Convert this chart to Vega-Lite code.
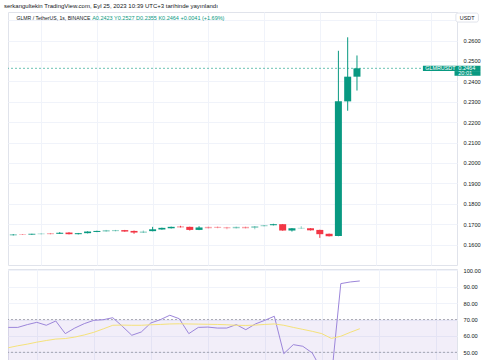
{
  "$schema": "https://vega.github.io/schema/vega-lite/v6.json",
  "padding": {"left": 4, "top": 2, "right": 3, "bottom": 0},
  "title": {"text": "serkangultekin TradingView.com, Eyl 25, 2023 10:39 UTC+3 tarihinde yayınlandı", "anchor": "start", "fontSize": 6, "fontWeight": "normal", "color": "#131722", "offset": 3, "dx": -3},
  "datasets": {
    "bars": [
      {"k": 1, "o": 0.1646, "h": 0.1651, "l": 0.1645, "c": 0.1649, "vol": "high", "rsi": 65.2, "ma": 52.8},
      {"k": 2, "o": 0.1651, "h": 0.1652, "l": 0.1647, "c": 0.1648, "vol": "low", "rsi": 65.2, "ma": 54.0},
      {"k": 3, "o": 0.1649, "h": 0.1653, "l": 0.1648, "c": 0.1653, "vol": "high", "rsi": 66.9, "ma": 55.0},
      {"k": 4, "o": 0.1651, "h": 0.1655, "l": 0.1650, "c": 0.1654, "vol": "low", "rsi": 68.3, "ma": 56.2},
      {"k": 5, "o": 0.1656, "h": 0.1657, "l": 0.1650, "c": 0.1651, "vol": "low", "rsi": 66.5, "ma": 57.2},
      {"k": 6, "o": 0.1653, "h": 0.1661, "l": 0.1652, "c": 0.1658, "vol": "high", "rsi": 69.1, "ma": 58.1},
      {"k": 7, "o": 0.1659, "h": 0.1661, "l": 0.1650, "c": 0.1651, "vol": "high", "rsi": 61.4, "ma": 58.4},
      {"k": 8, "o": 0.1651, "h": 0.1657, "l": 0.1650, "c": 0.1656, "vol": "high", "rsi": 64.8, "ma": 59.3},
      {"k": 9, "o": 0.1656, "h": 0.1665, "l": 0.1655, "c": 0.1664, "vol": "high", "rsi": 67.5, "ma": 60.6},
      {"k": 10, "o": 0.1662, "h": 0.1668, "l": 0.1661, "c": 0.1667, "vol": "high", "rsi": 69.5, "ma": 62.2},
      {"k": 11, "o": 0.1664, "h": 0.1672, "l": 0.1663, "c": 0.1671, "vol": "low", "rsi": 69.9, "ma": 64.3},
      {"k": 12, "o": 0.1666, "h": 0.1672, "l": 0.1665, "c": 0.1671, "vol": "low", "rsi": 71.1, "ma": 66.5},
      {"k": 13, "o": 0.1671, "h": 0.1672, "l": 0.1663, "c": 0.1664, "vol": "high", "rsi": 65.9, "ma": 66.6},
      {"k": 14, "o": 0.1667, "h": 0.1669, "l": 0.1653, "c": 0.1659, "vol": "high", "rsi": 60.4, "ma": 66.5},
      {"k": 15, "o": 0.1658, "h": 0.1669, "l": 0.1657, "c": 0.1664, "vol": "low", "rsi": 62.4, "ma": 66.5},
      {"k": 16, "o": 0.1666, "h": 0.1687, "l": 0.1665, "c": 0.1675, "vol": "high", "rsi": 67.9, "ma": 66.8},
      {"k": 17, "o": 0.1674, "h": 0.1683, "l": 0.1673, "c": 0.1682, "vol": "high", "rsi": 69.9, "ma": 67.0},
      {"k": 18, "o": 0.1680, "h": 0.1688, "l": 0.1679, "c": 0.1687, "vol": "high", "rsi": 72.6, "ma": 67.3},
      {"k": 19, "o": 0.1688, "h": 0.1692, "l": 0.1684, "c": 0.1685, "vol": "high", "rsi": 70.5, "ma": 67.4},
      {"k": 20, "o": 0.1687, "h": 0.1688, "l": 0.1669, "c": 0.1672, "vol": "high", "rsi": 61.4, "ma": 67.3},
      {"k": 21, "o": 0.1672, "h": 0.1690, "l": 0.1671, "c": 0.1684, "vol": "high", "rsi": 65.2, "ma": 67.2},
      {"k": 22, "o": 0.1687, "h": 0.1688, "l": 0.1679, "c": 0.1680, "vol": "low", "rsi": 65.4, "ma": 67.1},
      {"k": 23, "o": 0.1687, "h": 0.1689, "l": 0.1680, "c": 0.1682, "vol": "low", "rsi": 64.8, "ma": 67.0},
      {"k": 24, "o": 0.1685, "h": 0.1687, "l": 0.1675, "c": 0.1680, "vol": "low", "rsi": 64.8, "ma": 66.8},
      {"k": 25, "o": 0.1680, "h": 0.1688, "l": 0.1679, "c": 0.1687, "vol": "low", "rsi": 66.9, "ma": 66.5},
      {"k": 26, "o": 0.1687, "h": 0.1688, "l": 0.1679, "c": 0.1680, "vol": "low", "rsi": 63.8, "ma": 66.4},
      {"k": 27, "o": 0.1682, "h": 0.1691, "l": 0.1675, "c": 0.1690, "vol": "low", "rsi": 67.3, "ma": 66.6},
      {"k": 28, "o": 0.1690, "h": 0.1696, "l": 0.1689, "c": 0.1695, "vol": "low", "rsi": 69.5, "ma": 67.0},
      {"k": 29, "o": 0.1695, "h": 0.1702, "l": 0.1694, "c": 0.1700, "vol": "high", "rsi": 72.0, "ma": 67.3},
      {"k": 30, "o": 0.1700, "h": 0.1701, "l": 0.1668, "c": 0.1669, "vol": "high", "rsi": 49.2, "ma": 66.5},
      {"k": 31, "o": 0.1669, "h": 0.1681, "l": 0.1664, "c": 0.1680, "vol": "high", "rsi": 54.7, "ma": 65.2},
      {"k": 32, "o": 0.1679, "h": 0.1690, "l": 0.1678, "c": 0.1682, "vol": "low", "rsi": 53.7, "ma": 64.0},
      {"k": 33, "o": 0.1680, "h": 0.1681, "l": 0.1669, "c": 0.1670, "vol": "high", "rsi": 49.6, "ma": 62.8},
      {"k": 34, "o": 0.1672, "h": 0.1673, "l": 0.1633, "c": 0.1651, "vol": "high", "rsi": 39.0, "ma": 61.4},
      {"k": 35, "o": 0.1653, "h": 0.1654, "l": 0.1640, "c": 0.1641, "vol": "high", "rsi": 34.0, "ma": 58.5},
      {"k": 36, "o": 0.1642, "h": 0.2550, "l": 0.1641, "c": 0.2302, "vol": "high", "rsi": 91.9, "ma": 59.8},
      {"k": 37, "o": 0.2302, "h": 0.2616, "l": 0.2256, "c": 0.2423, "vol": "high", "rsi": 92.9, "ma": 62.2},
      {"k": 38, "o": 0.2423, "h": 0.2527, "l": 0.2355, "c": 0.2464, "vol": "high", "rsi": 93.5, "ma": 64.4}
    ],
    "labels": [
      {"t": "GLMR / TetherUS, 1s, BINANCE", "part": "name"},
      {"t": "A0.2423 Y0.2527 D0.2355 K0.2464 +0.0041 (+1.69%)", "part": "ohlc"}
    ]
  },
  "spacing": 0,
  "vconcat": [
    {
      "width": 449,
      "height": 253,
      "data": {"name": "bars"},
      "encoding": {
        "x": {"type": "quantitative", "scale": {"domain": [0.97, 48.23], "nice": false, "zero": false},
              "axis": {"grid": true, "gridColor": "#f0f3fa", "labels": false, "ticks": false, "domain": false, "title": null, "values": [4, 10, 16, 22, 28, 34, 40, 46]}},
        "y": {"type": "quantitative", "scale": {"domain": [0.15, 0.274], "nice": false, "zero": false},
              "axis": {"orient": "right", "title": null, "values": [0.16, 0.17, 0.18, 0.19, 0.2, 0.21, 0.22, 0.23, 0.24, 0.25, 0.26, 0.27], "labelExpr": "datum.value > 0.265 ? '' : format(datum.value, '.4f')", "labelOverlap": false, "grid": true, "gridColor": "#f0f3fa", "ticks": false, "domain": false, "labelPadding": 6, "labelFontSize": 5.6, "labelColor": "#131722"}}
      },
      "layer": [
        {
          "mark": {"type": "rule", "strokeWidth": 1, "clip": true},
          "encoding": {
            "x": {"field": "k"},
            "y": {"field": "l"},
            "y2": {"field": "h"},
            "color": {"condition": {"test": "datum.c >= datum.o", "value": "#089981"}, "value": "#F23645"},
            "opacity": {"condition": {"test": "datum.vol == 'low'", "value": 0.45}, "value": 1}
          }
        },
        {
          "mark": {"type": "bar", "size": 7, "clip": true},
          "encoding": {
            "x": {"field": "k"},
            "y": {"field": "o"},
            "y2": {"field": "c"},
            "color": {"condition": {"test": "datum.c >= datum.o", "value": "#089981"}, "value": "#F23645"},
            "opacity": {"condition": {"test": "datum.vol == 'low'", "value": 0.45}, "value": 1}
          }
        },
        {
          "transform": [{"filter": "datum.k == 38"}],
          "mark": {"type": "rule", "color": "#089981", "strokeDash": [2, 2], "strokeWidth": 1, "opacity": 0.6},
          "encoding": {"x": null, "y": {"field": "c"}}
        },
        {
          "transform": [{"filter": "datum.k == 38"}],
          "mark": {"type": "rect", "color": "#089981"},
          "encoding": {"x": {"datum": 45.1}, "x2": {"datum": 51.3}, "y": {"datum": 0.24765}, "y2": {"datum": 0.24505}}
        },
        {
          "transform": [{"filter": "datum.k == 38"}],
          "mark": {"type": "rect", "color": "#089981"},
          "encoding": {"x": {"datum": 48.5}, "x2": {"datum": 51.3}, "y": {"datum": 0.24505}, "y2": {"datum": 0.24275}}
        },
        {
          "transform": [{"filter": "datum.k == 38"}],
          "mark": {"type": "text", "align": "left", "baseline": "middle", "color": "white", "fontSize": 5.4, "text": "GLMRUSDT"},
          "encoding": {"x": {"datum": 45.35}, "y": {"field": "c"}}
        },
        {
          "transform": [{"filter": "datum.k == 38"}],
          "mark": {"type": "text", "align": "left", "baseline": "middle", "color": "white", "fontSize": 5.6},
          "encoding": {"x": {"datum": 48.9}, "y": {"field": "c"}, "text": {"field": "c", "format": ".4f"}}
        },
        {
          "transform": [{"filter": "datum.k == 38"}],
          "mark": {"type": "text", "align": "left", "baseline": "middle", "color": "white", "fontSize": 5.6, "text": "20:01"},
          "encoding": {"x": {"datum": 48.9}, "y": {"datum": 0.2439}}
        },
        {
          "transform": [{"filter": "datum.k == 38"}],
          "mark": {"type": "rect", "fill": "white", "stroke": "#e0e3eb", "cornerRadius": 2},
          "encoding": {"x": {"datum": 48.65}, "x2": {"datum": 51.07}, "y": {"datum": 0.27348}, "y2": {"datum": 0.26907}}
        },
        {
          "transform": [{"filter": "datum.k == 38"}],
          "mark": {"type": "text", "align": "center", "baseline": "middle", "color": "#131722", "fontSize": 5.4, "text": "USDT"},
          "encoding": {"x": {"datum": 49.86}, "y": {"datum": 0.27128}}
        },
        {
          "data": {"name": "labels"},
          "transform": [{"filter": "datum.part == 'name'"}],
          "mark": {"type": "text", "align": "left", "baseline": "middle", "color": "#131722", "fontSize": 5.1},
          "encoding": {"x": {"datum": 1.35}, "y": {"datum": 0.27103}, "text": {"field": "t"}}
        },
        {
          "data": {"name": "labels"},
          "transform": [{"filter": "datum.part == 'ohlc'"}],
          "mark": {"type": "text", "align": "left", "baseline": "middle", "color": "#089981", "fontSize": 5.5},
          "encoding": {"x": {"datum": 9.49}, "y": {"datum": 0.27103}, "text": {"field": "t"}}
        }
      ]
    },
    {
      "width": 449,
      "height": 94,
      "encoding": {
        "x": {"field": "k", "type": "quantitative", "scale": {"domain": [0.97, 48.23], "nice": false, "zero": false},
              "axis": {"grid": true, "gridColor": "#f0f3fa", "labels": false, "ticks": false, "domain": false, "title": null, "values": [4, 10, 16, 22, 28, 34, 40, 46]}},
        "y": {"type": "quantitative", "scale": {"domain": [43.5, 100.8], "nice": false, "zero": false},
              "axis": {"orient": "right", "title": null, "values": [50, 60, 70, 80, 90, 100], "format": ".2f", "labelOverlap": false, "grid": true, "gridColor": "#f0f3fa", "ticks": false, "domain": false, "labelPadding": 6, "labelFontSize": 5.7, "labelColor": "#131722"}}
      },
      "layer": [
        {
          "data": {"values": [{"lo": 30, "hi": 70}]},
          "mark": {"type": "rect", "color": "#7E57C2", "opacity": 0.1, "clip": true},
          "encoding": {"x": null, "y": {"field": "lo", "type": "quantitative"}, "y2": {"field": "hi"}}
        },
        {
          "data": {"values": [{"lvl": 70}, {"lvl": 50}, {"lvl": 30}]},
          "mark": {"type": "rule", "color": "#787B86", "strokeDash": [2, 2], "opacity": 0.6, "clip": true},
          "encoding": {"x": null, "y": {"field": "lvl", "type": "quantitative"}}
        },
        {
          "data": {"name": "bars"},
          "mark": {"type": "line", "color": "#9C86DA", "strokeWidth": 1, "clip": true},
          "encoding": {"y": {"field": "rsi", "type": "quantitative"}}
        },
        {
          "data": {"name": "bars"},
          "mark": {"type": "line", "color": "#F5E27A", "strokeWidth": 1, "clip": true},
          "encoding": {"y": {"field": "ma", "type": "quantitative"}}
        }
      ]
    }
  ],
  "config": {
    "font": "Liberation Sans",
    "view": {"stroke": "#e0e3eb"},
    "background": "white"
  }
}
